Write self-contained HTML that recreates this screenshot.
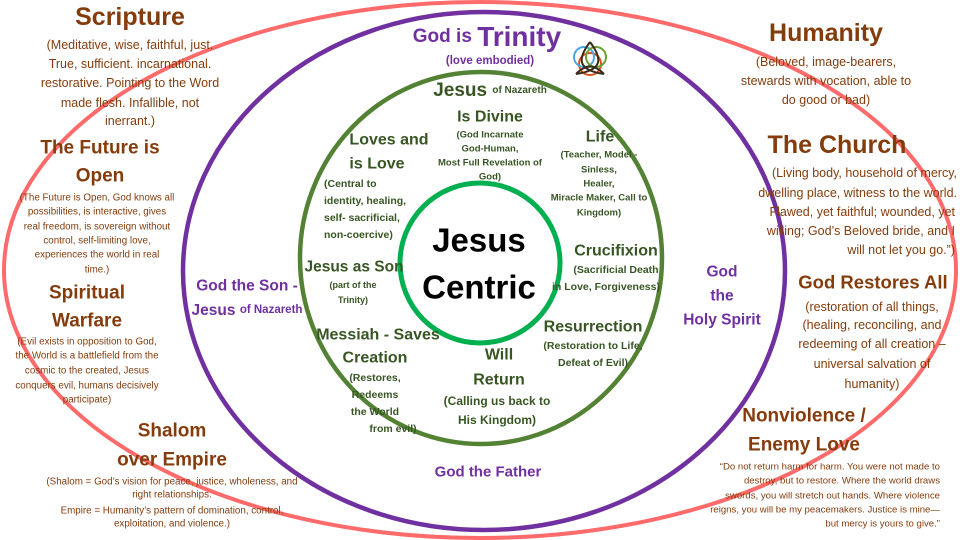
<!DOCTYPE html>
<html><head><meta charset="utf-8"><style>
html,body{margin:0;padding:0;background:#fff;width:960px;height:540px;overflow:hidden}
svg{display:block}
text{font-family:"Liberation Sans",sans-serif;dominant-baseline:central;text-anchor:middle}
.b{font-weight:bold}
.br{fill:#843c0c}
.pu{fill:#7030a0}
.gr{fill:#375623}
</style></head><body>
<svg width="960" height="540" viewBox="0 0 960 540">
<ellipse cx="480" cy="270" rx="476" ry="268" fill="none" stroke="#ff6b6b" stroke-width="4"/>
<ellipse cx="484" cy="271" rx="301" ry="259" fill="none" stroke="#7030a0" stroke-width="4.5"/>
<ellipse cx="481" cy="258" rx="181" ry="186" fill="none" stroke="#548235" stroke-width="4.5"/>
<circle cx="480" cy="263" r="80" fill="none" stroke="#00b050" stroke-width="5"/>

<!-- trinity icon -->
<g transform="translate(590,60)" fill="none" stroke-width="2">
<circle cx="0" cy="4" r="11" stroke="#e05020"/>
<circle cx="-6" cy="-3" r="10" stroke="#4aa8e0"/>
<circle cx="6" cy="-3" r="10" stroke="#6aa030"/>
<path d="M0,-18 C12,-2 14,10 -14,14 M0,-18 C-12,-2 -14,10 14,14 M-14,14 C-4,4 4,4 14,14" stroke="#3a2a1a"/>
</g>

<!-- Left brown -->
<text x="130" y="17" class="b br" font-size="25">Scripture</text>
<g class="br" font-size="12.5">
<text x="130" y="45">(Meditative, wise, faithful, just.</text>
<text x="130" y="64">True, sufficient. incarnational.</text>
<text x="130" y="83">restorative. Pointing to the Word</text>
<text x="130" y="103">made flesh. Infallible, not</text>
<text x="130" y="121">inerrant.)</text>
</g>
<text x="100" y="148" class="b br" font-size="19">The Future is</text>
<text x="100" y="176" class="b br" font-size="19">Open</text>
<g class="br" font-size="9.8">
<text x="97" y="198">(The Future is Open, God knows all</text>
<text x="97" y="212">possibilities, is interactive, gives</text>
<text x="97" y="227">real freedom, is sovereign without</text>
<text x="97" y="241">control, self-limiting love,</text>
<text x="97" y="255">experiences the world in real</text>
<text x="97" y="270">time.)</text>
</g>
<text x="87" y="293" class="b br" font-size="19">Spiritual</text>
<text x="87" y="321" class="b br" font-size="19">Warfare</text>
<g class="br" font-size="9.8">
<text x="87" y="342">(Evil exists in opposition to God,</text>
<text x="87" y="356">the World is a battlefield from the</text>
<text x="87" y="371">cosmic to the created, Jesus</text>
<text x="87" y="386">conquers evil, humans decisively</text>
<text x="87" y="400">participate)</text>
</g>
<text x="172" y="431" class="b br" font-size="19">Shalom</text>
<text x="172" y="460" class="b br" font-size="19">over Empire</text>
<g class="br" font-size="9.8">
<text x="172" y="482">(Shalom = God’s vision for peace, justice, wholeness, and</text>
<text x="172" y="495">right relationships.</text>
<text x="172" y="511">Empire = Humanity’s pattern of domination, control,</text>
<text x="172" y="524">exploitation, and violence.)</text>
</g>

<!-- Right brown -->
<text x="826" y="33" class="b br" font-size="25">Humanity</text>
<g class="br" font-size="12.5">
<text x="826" y="62">(Beloved, image-bearers,</text>
<text x="826" y="81">stewards with vocation, able to</text>
<text x="826" y="100">do good or bad)</text>
</g>
<text x="837" y="145" class="b br" font-size="25">The Church</text>
<g class="br" font-size="12.5" style="text-anchor:end">
<text x="957" y="173" style="text-anchor:end">(Living body, household of mercy,</text>
<text x="957" y="193" style="text-anchor:end">dwelling place, witness to the world.</text>
<text x="955" y="212" style="text-anchor:end">Flawed, yet faithful; wounded, yet</text>
<text x="955" y="231" style="text-anchor:end">willing; God’s Beloved bride, and I</text>
<text x="955" y="250" style="text-anchor:end">will not let you go.”)</text>
</g>
<text x="873" y="282" class="b br" font-size="18.5">God Restores All</text>
<g class="br" font-size="12.5">
<text x="872" y="307">(restoration of all things,</text>
<text x="872" y="325">(healing, reconciling, and</text>
<text x="872" y="344">redeeming of all creation –</text>
<text x="872" y="364">universal salvation of</text>
<text x="872" y="384">humanity)</text>
</g>
<text x="804" y="416" class="b br" font-size="19">Nonviolence /</text>
<text x="804" y="445" class="b br" font-size="19">Enemy Love</text>
<g class="br" font-size="9.6">
<text x="940" y="467" style="text-anchor:end">“Do not return harm for harm. You were not made to</text>
<text x="940" y="481" style="text-anchor:end">destroy, but to restore. Where the world draws</text>
<text x="940" y="496" style="text-anchor:end">swords, you will stretch out hands. Where violence</text>
<text x="940" y="510" style="text-anchor:end">reigns, you will be my peacemakers. Justice is mine—</text>
<text x="940" y="524" style="text-anchor:end">but mercy is yours to give.”</text>
</g>

<!-- Purple -->
<text x="487" y="36" class="b pu"><tspan font-size="19">God is </tspan><tspan font-size="28">Trinity</tspan></text>
<text x="490" y="61" class="b pu" font-size="11.5">(love embodied)</text>
<text x="247" y="286" class="b pu" font-size="15.5">God the Son -</text>
<text x="247" y="310" class="b pu"><tspan font-size="15.5">Jesus </tspan><tspan font-size="11.5">of Nazareth</tspan></text>
<text x="722" y="272" class="b pu" font-size="15.5">God</text>
<text x="722" y="296" class="b pu" font-size="15.5">the</text>
<text x="722" y="320" class="b pu" font-size="15.5">Holy Spirit</text>
<text x="488" y="472" class="b pu" font-size="15">God the Father</text>

<!-- Green -->
<g class="b gr">
<text x="490" y="90"><tspan font-size="19">Jesus </tspan><tspan font-size="10">of Nazareth</tspan></text>
<text x="490" y="117" font-size="16">Is Divine</text>
<g font-size="9.5">
<text x="490" y="135">(God Incarnate</text>
<text x="490" y="149">God-Human,</text>
<text x="490" y="163">Most Full Revelation of</text>
<text x="490" y="177">God)</text>
</g>
<text x="389" y="140" font-size="16">Loves and</text>
<text x="377" y="164" font-size="16">is Love</text>
<g font-size="10.5" style="text-anchor:start">
<text x="324" y="184" style="text-anchor:start">(Central to</text>
<text x="324" y="201" style="text-anchor:start">identity, healing,</text>
<text x="324" y="218" style="text-anchor:start">self- sacrificial,</text>
<text x="324" y="235" style="text-anchor:start">non-coercive)</text>
</g>
<text x="600" y="137" font-size="16">Life</text>
<g font-size="9.5">
<text x="599" y="155">(Teacher, Model -</text>
<text x="599" y="170">Sinless,</text>
<text x="599" y="184">Healer,</text>
<text x="599" y="198">Miracle Maker, Call to</text>
<text x="599" y="213">Kingdom)</text>
</g>
<text x="616" y="251" font-size="16">Crucifixion</text>
<g font-size="10.5">
<text x="616" y="270">(Sacrificial Death</text>
<text x="606" y="287">in Love, Forgiveness)</text>
</g>
<text x="354" y="267" font-size="15.5">Jesus as Son</text>
<g font-size="9">
<text x="353" y="285">(part of the</text>
<text x="353" y="300">Trinity)</text>
</g>
<text x="378" y="335" font-size="16">Messiah - Saves</text>
<text x="375" y="358" font-size="16">Creation</text>
<g font-size="10.5">
<text x="375" y="378">(Restores,</text>
<text x="375" y="395">Redeems</text>
<text x="375" y="412">the World</text>
<text x="393" y="429">from evil)</text>
</g>
<text x="499" y="355" font-size="16">Will</text>
<text x="499" y="380" font-size="16">Return</text>
<g font-size="12">
<text x="497" y="401">(Calling us back to</text>
<text x="497" y="420">His Kingdom)</text>
</g>
<text x="593" y="327" font-size="16">Resurrection</text>
<g font-size="10.5">
<text x="593" y="346">(Restoration to Life,</text>
<text x="593" y="363">Defeat of Evil)</text>
</g>
</g>

<text x="479" y="240" class="b" font-size="33" fill="#000">Jesus</text>
<text x="479" y="287" class="b" font-size="33" fill="#000">Centric</text>
</svg>
</body></html>
